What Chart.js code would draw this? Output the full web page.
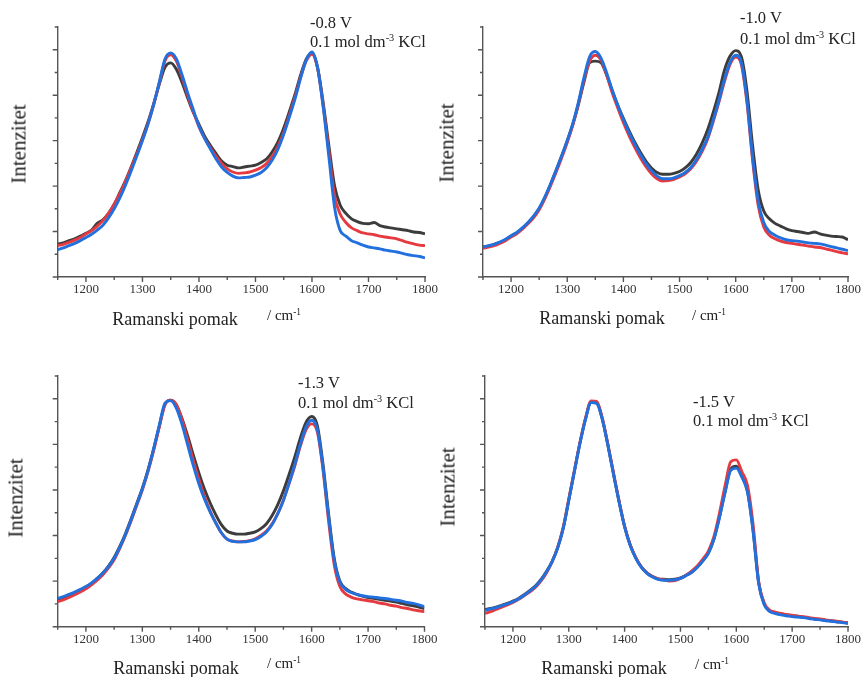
<!DOCTYPE html>
<html><head><meta charset="utf-8">
<script src="https://cdn.jsdelivr.net/npm/chart.js@4/dist/chart.umd.min.js"></script>
<style>
html,body{margin:0;padding:0;background:#fff;}
#wrap{position:relative;width:866px;height:677px;overflow:hidden;font-family:"Liberation Serif","Times New Roman",serif;color:#222;}
canvas{position:absolute;left:0;top:0;}
.t{position:absolute;white-space:nowrap;line-height:1;}
.yl{font-size:21px;transform:translate(-50%,-50%) rotate(-90deg);}
.xl{font-size:18px;transform:translate(-50%,-50%);}
.un{font-size:15px;transform:translateY(-50%);}
.an{font-size:16.5px;transform:translateY(-50%);}
sup{font-size:0.62em;vertical-align:0;position:relative;top:-0.55em;}
</style></head>
<body><div id="wrap"></div>
<script>
// ---- data ----
const ramanShift = [];
for (let v = 1150; v <= 1800; v += 10) ramanShift.push(v);
const xTickLabels = [1200, 1300, 1400, 1500, 1600, 1700, 1800];
const potentials = ['-0.8 V', '-1.0 V', '-1.3 V', '-1.5 V'];
const electrolyte = '0.1 mol dm';

const p1Blue = [0.60,0.64,0.69,0.74,0.80,0.87,0.94,1.03,1.14,1.30,
1.50,1.74,2.02,2.33,2.66,3.00,3.37,3.80,4.30,4.80,
4.93,4.80,4.45,4.05,3.68,3.32,3.05,2.82,2.60,2.42,
2.30,2.22,2.18,2.19,2.20,2.24,2.30,2.41,2.58,2.82,
3.14,3.52,3.92,4.38,4.78,4.95,4.60,3.72,2.63,1.53,
1.02,0.90,0.80,0.75,0.70,0.66,0.64,0.62,0.59,0.57,
0.55,0.52,0.49,0.47,0.45,0.42];
const p1Red = [0.69,0.72,0.76,0.81,0.87,0.95,1.02,1.12,1.24,1.40,
1.60,1.84,2.10,2.40,2.70,3.02,3.38,3.80,4.28,4.76,
4.89,4.75,4.40,4.00,3.64,3.30,3.05,2.85,2.66,2.50,
2.38,2.31,2.28,2.29,2.31,2.35,2.41,2.50,2.66,2.88,
3.18,3.56,3.96,4.40,4.76,4.90,4.58,3.75,2.75,1.78,
1.38,1.20,1.08,1.02,0.97,0.95,0.93,0.90,0.88,0.86,
0.84,0.80,0.76,0.73,0.70,0.69];
const p1Black = [0.73,0.75,0.80,0.84,0.90,0.96,1.03,1.18,1.26,1.40,
1.60,1.86,2.12,2.42,2.74,3.07,3.42,3.82,4.25,4.62,
4.71,4.57,4.28,3.94,3.62,3.36,3.10,2.90,2.72,2.55,
2.46,2.43,2.40,2.42,2.44,2.46,2.52,2.60,2.76,2.98,
3.28,3.64,4.02,4.45,4.80,4.93,4.60,3.82,2.88,2.00,
1.58,1.40,1.28,1.22,1.18,1.17,1.20,1.13,1.10,1.08,
1.06,1.04,1.02,0.99,0.98,0.95];

const p2Blue = [0.66,0.69,0.72,0.77,0.83,0.91,0.98,1.08,1.20,1.34,
1.52,1.76,2.04,2.34,2.66,3.00,3.38,3.85,4.40,4.85,
4.96,4.82,4.50,4.12,3.78,3.47,3.18,2.93,2.70,2.50,
2.34,2.22,2.16,2.16,2.18,2.23,2.30,2.41,2.58,2.80,
3.07,3.45,3.88,4.35,4.72,4.88,4.72,3.90,2.65,1.68,
1.20,1.00,0.92,0.86,0.82,0.80,0.79,0.77,0.75,0.74,
0.73,0.70,0.67,0.64,0.61,0.58];
const p2Red = [0.63,0.66,0.69,0.74,0.80,0.88,0.95,1.05,1.17,1.30,
1.48,1.72,2.00,2.30,2.62,2.96,3.35,3.82,4.35,4.75,
4.88,4.78,4.45,4.06,3.72,3.40,3.11,2.86,2.63,2.43,
2.27,2.16,2.11,2.12,2.15,2.20,2.27,2.38,2.54,2.76,
3.03,3.42,3.84,4.30,4.68,4.84,4.68,3.84,2.58,1.58,
1.10,0.92,0.84,0.79,0.76,0.74,0.72,0.70,0.68,0.66,
0.65,0.62,0.59,0.56,0.53,0.51];
const p2Black = [0.66,0.68,0.72,0.76,0.82,0.90,0.97,1.07,1.19,1.33,
1.50,1.74,2.03,2.34,2.66,3.00,3.36,3.80,4.30,4.72,
4.75,4.72,4.45,4.10,3.78,3.49,3.22,2.97,2.75,2.55,
2.40,2.30,2.26,2.26,2.28,2.32,2.40,2.52,2.70,2.94,
3.24,3.62,4.05,4.55,4.86,4.98,4.85,4.10,2.90,1.92,
1.45,1.28,1.18,1.12,1.06,1.02,1.00,0.98,0.96,0.99,
0.95,0.92,0.90,0.89,0.88,0.82];

const p3Blue = [0.62,0.66,0.71,0.76,0.82,0.88,0.96,1.06,1.18,1.32,
1.50,1.74,2.02,2.34,2.68,3.02,3.42,3.90,4.42,4.90,
4.96,4.80,4.45,4.00,3.55,3.14,2.80,2.52,2.28,2.06,
1.92,1.87,1.86,1.86,1.88,1.91,1.98,2.08,2.24,2.48,
2.77,3.15,3.55,4.00,4.38,4.53,4.34,3.50,2.41,1.46,
0.98,0.82,0.75,0.71,0.68,0.66,0.65,0.63,0.62,0.60,
0.58,0.56,0.53,0.51,0.48,0.44];
const p3Red = [0.55,0.59,0.64,0.70,0.76,0.83,0.92,1.02,1.14,1.29,
1.47,1.72,2.00,2.32,2.66,3.00,3.40,3.86,4.38,4.86,
4.97,4.88,4.55,4.12,3.66,3.24,2.86,2.54,2.28,2.06,
1.92,1.88,1.86,1.87,1.89,1.93,2.00,2.10,2.26,2.48,
2.78,3.14,3.52,3.96,4.32,4.45,4.28,3.46,2.32,1.36,
0.88,0.72,0.65,0.61,0.59,0.57,0.55,0.52,0.50,0.47,
0.45,0.42,0.40,0.37,0.35,0.33];
const p3Black = [0.60,0.64,0.69,0.74,0.80,0.87,0.95,1.06,1.18,1.33,
1.52,1.76,2.04,2.36,2.70,3.04,3.44,3.90,4.40,4.88,
4.97,4.87,4.58,4.20,3.78,3.38,3.02,2.72,2.46,2.24,
2.10,2.05,2.03,2.03,2.05,2.08,2.15,2.26,2.44,2.68,
2.98,3.34,3.72,4.14,4.48,4.61,4.42,3.58,2.48,1.50,
1.00,0.84,0.76,0.71,0.67,0.64,0.62,0.60,0.58,0.56,
0.54,0.51,0.48,0.46,0.43,0.40];

const p4Blue = [0.36,0.39,0.42,0.46,0.50,0.55,0.61,0.69,0.78,0.88,
1.02,1.20,1.42,1.72,2.15,2.77,3.40,4.02,4.55,4.92,
4.90,4.55,3.98,3.35,2.74,2.19,1.78,1.50,1.30,1.17,
1.09,1.04,1.02,1.02,1.03,1.06,1.12,1.19,1.30,1.44,
1.61,1.92,2.40,2.95,3.43,3.48,3.28,2.95,2.10,0.95,
0.48,0.33,0.29,0.26,0.24,0.22,0.21,0.20,0.18,0.16,
0.15,0.13,0.12,0.10,0.09,0.07];
const p4Red = [0.29,0.33,0.38,0.43,0.48,0.53,0.60,0.68,0.76,0.86,
1.00,1.18,1.42,1.74,2.18,2.80,3.42,4.04,4.58,4.95,
4.94,4.58,4.00,3.38,2.76,2.20,1.80,1.52,1.31,1.18,
1.10,1.05,1.03,1.00,1.01,1.06,1.13,1.22,1.33,1.48,
1.66,1.98,2.50,3.10,3.62,3.66,3.40,3.10,2.25,1.00,
0.52,0.36,0.32,0.29,0.27,0.25,0.23,0.22,0.20,0.18,
0.17,0.15,0.13,0.12,0.10,0.09];
const p4Black = [0.38,0.40,0.43,0.47,0.51,0.56,0.62,0.70,0.79,0.89,
1.03,1.21,1.43,1.73,2.16,2.78,3.41,4.03,4.56,4.93,
4.91,4.56,3.99,3.36,2.75,2.20,1.79,1.51,1.31,1.18,
1.10,1.05,1.04,1.03,1.04,1.07,1.13,1.20,1.31,1.45,
1.62,1.93,2.42,2.97,3.46,3.52,3.30,2.97,2.12,0.97,
0.50,0.35,0.31,0.28,0.26,0.24,0.23,0.21,0.19,0.17,
0.16,0.14,0.13,0.11,0.10,0.08];

const panelSeries = [
  [p1Blue, p1Red, p1Black],
  [p2Blue, p2Red, p2Black],
  [p3Blue, p3Red, p3Black],
  [p4Blue, p4Red, p4Black]
];

// ---- layout / style ----
const W = 866, H = 677;
const boxes = [
  {L:57.7, R:425, T:27, B:277},
  {L:483, R:850, T:27, B:277},
  {L:57.7, R:424.5, T:376, B:626.7},
  {L:485, R:852.5, T:376, B:626.7}
];
const colors = ['#2270dd', '#e53a3f', '#3c3c3c'];
const axisColor = '#555';

const textPos = [
  {yl:[19,144], xl:[175,319], un:[267,315], a1:[310,22.7], a2:[310,42]},
  {yl:[447,142.5], xl:[602,318], un:[692,315], a1:[740,18.3], a2:[740,39]},
  {yl:[16,498], xl:[176,668], un:[267,663], a1:[298,382.7], a2:[298,402.7]},
  {yl:[448,487], xl:[604,668], un:[695,664], a1:[693,401.7], a2:[693,421]}
];

const tickPlugin = {
  id: 'customTicks',
  afterDraw(chart) {
    const {ctx, chartArea: a} = chart;
    const x = chart.scales.x, y = chart.scales.y;
    ctx.save();
    ctx.strokeStyle = axisColor;
    ctx.lineWidth = 1.4;
    ctx.beginPath();
    for (let v = y.min; v <= y.max + 1e-9; v += 0.5) {
      const py = y.getPixelForValue(v);
      const len = Math.abs(v - Math.round(v)) < 1e-6 ? 5 : 3;
      ctx.moveTo(a.left - len, py); ctx.lineTo(a.left, py);
    }
    for (let v = x.min; v <= x.max + 1e-9; v += 50) {
      const px = x.getPixelForValue(v);
      const len = v % 100 === 0 ? 5 : 3;
      ctx.moveTo(px, a.bottom); ctx.lineTo(px, a.bottom + len);
    }
    ctx.moveTo(a.left - 3, a.bottom); ctx.lineTo(a.left, a.bottom);
    ctx.stroke();
    ctx.restore();
  }
};

const wrap = document.getElementById('wrap');
boxes.forEach((b, i) => {
  const c = document.createElement('canvas');
  c.width = W; c.height = H;
  c.style.width = W + 'px'; c.style.height = H + 'px';
  wrap.appendChild(c);
  const ser = panelSeries[i];
  new Chart(c.getContext('2d'), {
    type: 'line',
    data: {
      datasets: ser.map((arr, k) => ({
        data: ramanShift.map((xv, j) => ({x: xv, y: arr[j]})),
        borderColor: colors[k],
        borderWidth: 2.9,
        pointRadius: 0,
        cubicInterpolationMode: 'monotone',
        fill: false
      }))
    },
    options: {
      responsive: false,
      animation: false,
      events: [],
      plugins: {legend: {display: false}, tooltip: {enabled: false}},
      layout: {padding: {left: b.L - 8, right: W - b.R, top: b.T, bottom: H - b.B - 25}},
      scales: {
        x: {
          type: 'linear', min: 1150, max: 1800,
          grid: {display: false, drawTicks: false},
          border: {display: true, color: axisColor, width: 1.4},
          ticks: {
            stepSize: 50, autoSkip: false, maxRotation: 0, padding: 5,
            color: '#333', font: {family: '"Liberation Serif", serif', size: 13},
            callback: v => xTickLabels.includes(v) ? String(v) : ''
          },
          afterFit: s => { s.height = 25; }
        },
        y: {
          type: 'linear', min: 0, max: 5.5,
          grid: {display: false, drawTicks: false},
          border: {display: true, color: axisColor, width: 1.4},
          ticks: {display: false},
          afterFit: s => { s.width = 8; }
        }
      }
    },
    plugins: [tickPlugin]
  });

  const tp = textPos[i];
  const add = (cls, pos, html) => {
    const d = document.createElement('div');
    d.className = 't ' + cls;
    d.style.left = pos[0] + 'px'; d.style.top = pos[1] + 'px';
    d.innerHTML = html;
    wrap.appendChild(d);
  };
  add('yl', tp.yl, 'Intenzitet');
  add('xl', tp.xl, 'Ramanski pomak');
  add('un', tp.un, '/ cm<sup>-1</sup>');
  add('an', tp.a1, potentials[i]);
  add('an', tp.a2, electrolyte + '<sup>-3</sup> KCl');
});
</script>
</body></html>
